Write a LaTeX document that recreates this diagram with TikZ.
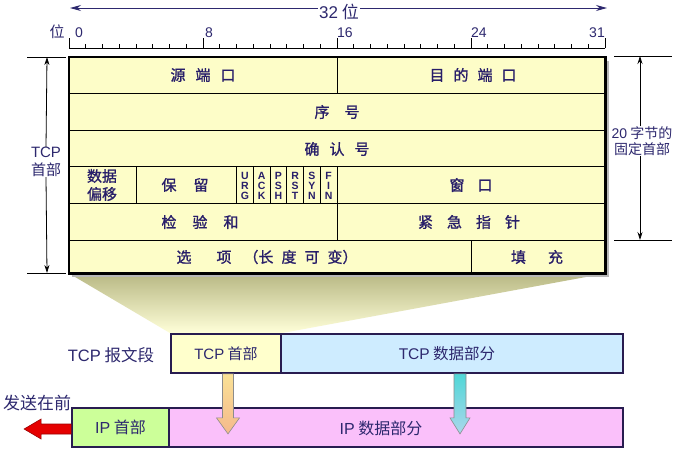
\documentclass[tikz,border=0pt]{standalone}
\usepackage{fontspec}
\setmainfont{Noto Sans CJK SC}
\newfontfamily\ar{Liberation Sans}
\newfontfamily\cjkb[FakeBold=1.2]{Noto Sans CJK SC}
\usetikzlibrary{arrows.meta,calc}
\pgfdeclarelayer{bg}
\pgfsetlayers{bg,main}
\newcommand\fs[2]{\fontsize{#1pt}{#2pt}\selectfont}
\definecolor{ink}{RGB}{40,30,105}
\definecolor{lab}{RGB}{45,40,110}
\definecolor{cellfill}{RGB}{253,253,200}
\definecolor{fanc}{RGB}{184,184,132}
\definecolor{tcph}{RGB}{255,255,204}
\definecolor{tcpd}{RGB}{206,236,255}
\definecolor{iph}{RGB}{204,255,153}
\definecolor{ipd}{RGB}{250,192,250}
\definecolor{frame}{RGB}{40,28,80}
\begin{document}
\begin{tikzpicture}[x=1pt,y=-1pt,
  every node/.style={inner sep=1pt},
  cellt/.style={text=ink, font=\cjkb\fs{15}{18}, align=center},
  lab/.style={text=lab, font=\fs{16}{19}, align=center},
  dim/.style={draw=black, line width=0.8pt, -{Stealth[length=8pt,width=5pt]}},
  topdim/.style={draw=lab, line width=0.9pt, -{Stealth[length=11pt,width=6pt]}},
  ext/.style={draw=black, line width=0.8pt},
  ruler/.style={draw=black, line width=0.8pt},
  cellline/.style={draw=black, line width=0.7pt},
  tbox/.style={draw=frame, line width=1.8pt, minimum height=39pt, inner sep=0pt},
  flagt/.style={text=ink, font=\ar\bfseries\fs{10.5}{10}, align=center, inner sep=0pt},
]
\useasboundingbox (0,0) rectangle (680,451);
\begin{pgfonlayer}{bg}
\fill[white] (0,0) rectangle (680,451);
\end{pgfonlayer}

% ---------- top ruler ----------
\node[text=lab, font=\fs{17}{20}] (w32) at (339,12) {{\ar 32} 位};
\coordinate (la) at (70,8);
\coordinate (ra) at (607,8);
\draw[topdim] (w32.west |- la) -- (la);
\draw[topdim] (w32.east |- ra) -- (ra);

\draw[ruler] (69,48) -- (605,48);
\foreach \k in {0,...,32} { \draw[ruler] ({69+16.75*\k},48) -- ({69+16.75*\k},44); }
\foreach \k in {0,8,16,24,32} { \draw[ruler] ({69+16.75*\k},48) -- ({69+16.75*\k},38); }
\node[text=lab, font=\fs{15}{18}] (wei) at (57,32) {位};
\node[text=lab, font=\ar\fs{14}{16}, anchor=base west, inner sep=0] (n0) at (75,37.5) {0};
\node[text=lab, font=\ar\fs{14}{16}, anchor=base west, inner sep=0] (n8) at (205,37.5) {8};
\node[text=lab, font=\ar\fs{14}{16}, anchor=base west, inner sep=0] (n16) at (337,37.5) {16};
\node[text=lab, font=\ar\fs{14}{16}, anchor=base west, inner sep=0] (n24) at (471,37.5) {24};
\node[text=lab, font=\ar\fs{14}{16}, anchor=base east, inner sep=0] (n31) at (605,37.5) {31};

% ---------- header table ----------
\fill[black!28] (72,61) rectangle (609,277);
\node[fill=cellfill, minimum width=536pt, minimum height=216pt, inner sep=0pt, anchor=north west] (tbl) at (69,57) {};
\draw[cellline] (69,93.6) -- (605,93.6);
\draw[cellline] (69,130.2) -- (605,130.2);
\draw[cellline] (69,166.8) -- (605,166.8);
\draw[cellline] (69,203.4) -- (605,203.4);
\draw[cellline] (69,240) -- (605,240);
\draw[cellline] (337,57) -- (337,93.6);
\draw[cellline] (136,166.8) -- (136,203.4);
\foreach \x in {236.5,253.25,270,286.75,303.5,320.25} { \draw[cellline] (\x,166.8) -- (\x,203.4); }
\draw[cellline] (337,166.8) -- (337,240);
\draw[cellline] (471,240) -- (471,273);
\draw[line width=2.2pt] (tbl.north west) rectangle (tbl.south east);

\node[cellt] (src) at (203,75) {源\hspace{10pt}端\hspace{10pt}口};
\node[cellt] (dst) at (473,75) {目\hspace{9pt}的\hspace{9pt}端\hspace{9pt}口};
\node[cellt] (seq) at (337,112) {序\hspace{15pt}号};
\node[cellt] (ack) at (337,149) {确\hspace{10pt}认\hspace{10pt}号};
\node[cellt] (off) at (102,185) {数据\\偏移};
\node[cellt] (res) at (185,185) {保\hspace{17pt}留};
\node[flagt] (urg) at (244.9,185.5) {U\\R\\G};
\node[flagt] (ackf) at (261.6,185.5) {A\\C\\K};
\node[flagt] (psh) at (278.4,185.5) {P\\S\\H};
\node[flagt] (rst) at (295.1,185.5) {R\\S\\T};
\node[flagt] (syn) at (311.9,185.5) {S\\Y\\N};
\node[flagt] (fin) at (328.6,185.5) {F\\I\\N};
\node[cellt] (win) at (471,185) {窗\hspace{13pt}口};
\node[cellt] (chk) at (200,222) {检\hspace{16pt}验\hspace{16pt}和};
\node[cellt] (urgp) at (469,222) {紧\hspace{14pt}急\hspace{14pt}指\hspace{14pt}针};
\node[cellt] (opt) at (267,257) {选\hspace{25pt}项\hspace{12pt}（长\hspace{8pt}度\hspace{8pt}可\hspace{8pt}变）};
\node[cellt] (pad) at (537,257) {填\hspace{22pt}充};

% ---------- dimension marks ----------
\draw[ext] (27,57) -- (66,57);
\draw[ext] (27,273) -- (66,273);
\coordinate (lt) at (47,57);
\coordinate (lb) at (47,273);
\node[text=lab, font=\fs{15}{18}, align=center, inner sep=0pt] (tcpl) at (46,162) {{\ar TCP}\\首部};
\draw[dim] (tcpl.north) -- (lt);
\draw[dim] (tcpl.south) -- (lb);

\draw[ext] (614,56) -- (672,56);
\draw[ext] (614,240) -- (672,240);
\coordinate (rt) at (640,56);
\coordinate (rb) at (640,240);
\node[text=lab, font=\fs{14}{16}, align=center, inner sep=0pt] (fixl) at (642,141) {{\ar 20} 字节的\\固定首部};
\draw[dim] (fixl.north -| rt) -- (rt);
\draw[dim] (fixl.south -| rb) -- (rb);

% ---------- TCP segment ----------
\node[tbox, fill=tcph, minimum width=110pt] (th) at (226,353.5) {};
\node[text=lab, font=\fs{15}{18}] (tht) at (th) {{\ar TCP} 首部};
\node[tbox, fill=tcpd, minimum width=342pt] (td) at (452,353.5) {};
\node[text=lab, font=\fs{15.5}{18}] (tdt) at (447,354) {{\ar TCP} 数据部分};
\node[lab, font=\fs{16.5}{19}] (seg) at (111,355) {{\ar TCP} 报文段};

\begin{pgfonlayer}{bg}
\shade[top color=fanc, bottom color=white!85!yellow] (tbl.south west) -- (tbl.south east) -- (th.north east) -- (th.north west) -- cycle;
\end{pgfonlayer}

% ---------- IP datagram ----------
\node[tbox, fill=iph, minimum width=97pt] (iph) at (120.5,427.5) {};
\node[text=lab, font=\fs{16}{19}] (ipht) at (iph) {{\ar IP} 首部};
\node[tbox, fill=ipd, minimum width=454pt] (ipd) at (396,427.5) {};
\node[text=lab, font=\fs{16}{19}] (ipdt) at (381,428) {{\ar IP} 数据部分};
\node[lab, font=\fs{17}{20}] (first) at (37,403) {发送在前};

% red arrow
\coordinate (r0) at ($(iph.west)+(0,1.5)$);
\fill[draw=red!60!black, line width=0.6pt, fill=red!90!black]
  ($(r0)+(0,-5)$) -- ++(-30,0) -- ++(0,-5) -- ++(-17,10) -- ++(17,10) -- ++(0,-5) -- ($(r0)+(0,5)$) -- cycle;

% down arrows
\coordinate (d1) at ($(th.south)+(2,0)$);
\shade[top color={rgb,255:red,250;green,225;blue,150}, bottom color={rgb,255:red,245;green,185;blue,140}, draw=black!45, line width=0.6pt]
  ($(d1)+(-5.5,0)$) -- ++(0,44) -- ++(-6,0) -- ++(11.5,16) -- ++(11.5,-16) -- ++(-6,0) -- ++(0,-44) -- cycle;
\coordinate (d2) at (td.south -| 460,0);
\shade[top color={rgb,255:red,80;green,215;blue,215}, bottom color={rgb,255:red,170;green,215;blue,235}, draw=black!45, line width=0.6pt]
  ($(d2)+(-6,0)$) -- ++(0,44) -- ++(-4,0) -- ++(10,16) -- ++(10,-16) -- ++(-4,0) -- ++(0,-44) -- cycle;
\end{tikzpicture}
\end{document}
